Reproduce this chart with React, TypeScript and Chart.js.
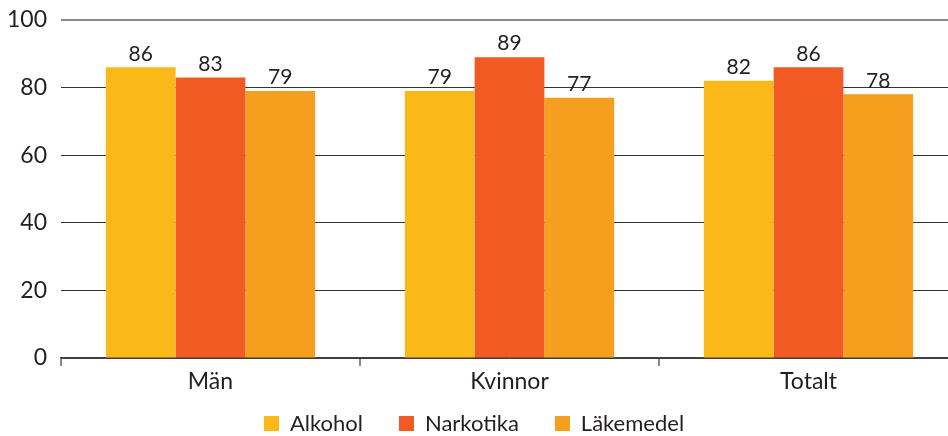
import React, { useEffect, useRef } from "react";
import { Chart, registerables } from "chart.js";

Chart.register(...registerables);

const categories = ["Män", "Kvinnor", "Totalt"];
const seriesNames = ["Alkohol", "Narkotika", "Läkemedel"];
const alkohol = [86, 79, 82];
const narkotika = [83, 89, 86];
const lakemedel = [79, 77, 78];
const colors = ["#FBB919", "#F15A22", "#F69F1F"];
const yTicks = [0, 20, 40, 60, 80, 100];

const FONT = "Lato, 'Open Sans', sans-serif";

const valueLabels = {
  id: "valueLabels",
  afterDatasetsDraw(chart: any) {
    const ctx = chart.ctx;
    ctx.save();
    ctx.font = `21px ${FONT}`;
    ctx.fillStyle = "#231F20";
    ctx.textAlign = "center";
    ctx.textBaseline = "bottom";
    chart.data.datasets.forEach((ds: any, i: number) => {
      const meta = chart.getDatasetMeta(i);
      meta.data.forEach((el: any, j: number) => {
        ctx.fillText(String(ds.data[j]), el.x, el.y - 3);
      });
    });
    ctx.restore();
  },
};

export default function App() {
  const ref = useRef<HTMLCanvasElement>(null);
  useEffect(() => {
    if (!ref.current) return;
    const seriesData = [alkohol, narkotika, lakemedel];
    const chart = new Chart(ref.current, {
      type: "bar",
      data: {
        labels: categories,
        datasets: seriesNames.map((name, i) => ({
          label: name,
          data: seriesData[i],
          backgroundColor: colors[i],
          borderWidth: 0,
          categoryPercentage: 0.7,
          barPercentage: 1.0,
        })),
      },
      options: {
        animation: false,
        responsive: false,
        maintainAspectRatio: false,
        layout: { padding: { top: 20, right: 0, left: 0, bottom: 0 } },
        plugins: {
          legend: { display: false },
          tooltip: { enabled: false },
        },
        scales: {
          x: {
            grid: {
              offset: true,
              drawOnChartArea: false,
              drawTicks: true,
              tickLength: 8,
              color: "#8a8a8a",
              lineWidth: 2,
            },
            border: { display: true, color: "#444", width: 1.5 },
            ticks: {
              font: { family: FONT, size: 23 },
              color: "#231F20",
              padding: 2,
            },
            afterFit(scale: any) {
              scale.height = 78;
              scale.paddingLeft = 0;
              scale.paddingRight = 0;
            },
          },
          y: {
            min: 0,
            max: 100,
            afterBuildTicks(scale: any) {
              scale.ticks = yTicks.map((v) => ({ value: v }));
            },
            grid: {
              drawTicks: false,
              color: (c: any) => (c.tick && c.tick.value === 100 ? "#8a8a8a" : "#333"),
              lineWidth: (c: any) => (c.tick && c.tick.value === 100 ? 2 : 1),
            },
            border: { display: false },
            ticks: {
              font: { family: FONT, size: 23 },
              color: "#231F20",
              padding: 14,
            },
            afterFit(scale: any) {
              scale.width = 61;
              scale.paddingTop = 0;
              scale.paddingBottom = 0;
            },
          },
        },
      },
      plugins: [valueLabels],
    });
    return () => chart.destroy();
  }, []);

  return (
    <div style={{ position: "absolute", left: 0, top: 0, width: 948, height: 436, background: "#fff", overflow: "hidden" }}>
      <canvas ref={ref} width={958} height={436} style={{ position: "absolute", left: 0, top: 0 }} />
      <div
        style={{
          position: "absolute",
          left: 0,
          top: 410,
          width: 948,
          display: "flex",
          justifyContent: "center",
          gap: 36,
          fontFamily: FONT,
          fontSize: 22,
          color: "#231F20",
          lineHeight: "26px",
        }}
      >
        {seriesNames.map((n, i) => (
          <div key={n} style={{ display: "flex", alignItems: "center" }}>
            <span style={{ display: "inline-block", width: 15, height: 15, background: colors[i], marginRight: 11 }} />
            <span>{n}</span>
          </div>
        ))}
      </div>
    </div>
  );
}
